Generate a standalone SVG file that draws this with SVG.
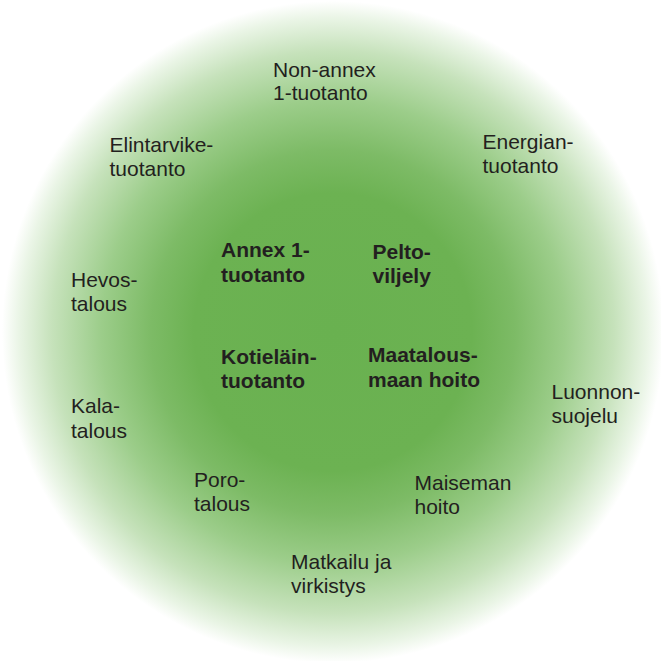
<svg xmlns="http://www.w3.org/2000/svg" width="661" height="661" viewBox="0 0 661 661">
  <defs>
    <radialGradient id="disc" cx="333" cy="332" r="331" gradientUnits="userSpaceOnUse">
      <stop offset="0" stop-color="#69b150"/>
      <stop offset="0.42" stop-color="#6cb252"/>
      <stop offset="0.55" stop-color="#7dbb66"/>
      <stop offset="0.7" stop-color="#9ccd8a"/>
      <stop offset="0.85" stop-color="#c6e2bb"/>
      <stop offset="0.95" stop-color="#eaf5e6"/>
      <stop offset="1" stop-color="#ffffff"/>
    </radialGradient>
  </defs>
  <style>
    text { font-family: "Liberation Sans", Arial, sans-serif; font-size: 21px; fill: #231f20; }
    .core text { font-weight: bold; }
  </style>
  <rect width="661" height="661" fill="#ffffff"/>
  <circle cx="333" cy="332" r="331" fill="url(#disc)"/>

  <g class="core">
    <g id="annex1"><text x="221" y="257">Annex 1-</text><text x="221" y="281.5">tuotanto</text></g>
    <g id="peltoviljely"><text x="372.5" y="259">Pelto-</text><text x="372.5" y="283">viljely</text></g>
    <g id="kotielain"><text x="221" y="363.5">Kotieläin-</text><text x="221" y="388">tuotanto</text></g>
    <g id="maatalousmaa"><text x="368" y="362">Maatalous-</text><text x="368" y="386.5">maan hoito</text></g>
  </g>

  <g class="outer">
    <g id="nonannex"><text x="273" y="76.5">Non-annex</text><text x="273" y="100">1-tuotanto</text></g>
    <g id="elintarvike"><text x="109.5" y="152">Elintarvike-</text><text x="109.5" y="176">tuotanto</text></g>
    <g id="energia"><text x="482.5" y="148.5">Energian-</text><text x="482.5" y="173">tuotanto</text></g>
    <g id="hevostalous"><text x="71" y="287">Hevos-</text><text x="71" y="311">talous</text></g>
    <g id="luonnonsuojelu"><text x="551.5" y="399">Luonnon-</text><text x="551.5" y="423">suojelu</text></g>
    <g id="kalatalous"><text x="71" y="413">Kala-</text><text x="71" y="437.5">talous</text></g>
    <g id="porotalous"><text x="194" y="486.5">Poro-</text><text x="194" y="511">talous</text></g>
    <g id="maisemanhoito"><text x="414.5" y="490">Maiseman</text><text x="414.5" y="513.5">hoito</text></g>
    <g id="matkailu"><text x="291" y="569">Matkailu ja</text><text x="291" y="593">virkistys</text></g>
  </g>

  <g id="connectors"/>
</svg>
